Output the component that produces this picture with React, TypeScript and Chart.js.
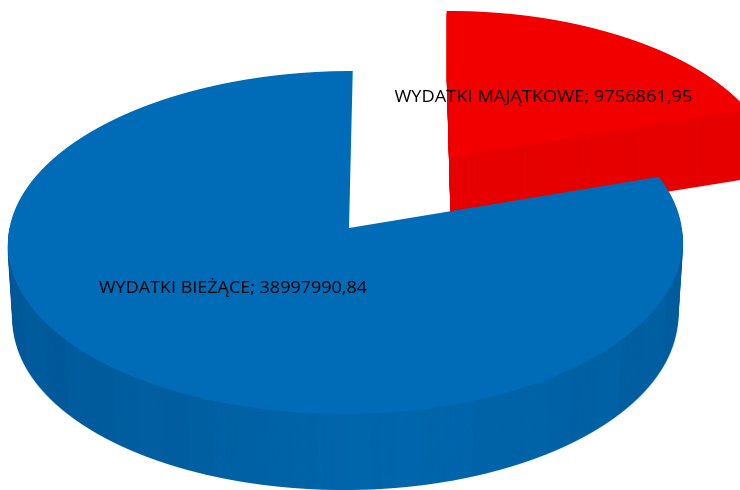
import React, { useEffect, useRef } from "react";
import { Chart, registerables } from "chart.js";

Chart.register(...registerables);

const categories = ["WYDATKI MAJĄTKOWE", "WYDATKI BIEŻĄCE"];
const values = [9756861.95, 38997990.84];
const faceColors = ["#f20000", "#006bb7"];
const sliceExplode = [0.53, 0];
const sliceDepth = [69, 76];
const sliceShrink = [0, 5];
const wallTop = [0, 228];
const redWallBands = ["#e60000"];
const blueWallBands = [
  "#005a9a", "#005c9d", "#005a9a", "#005d9e", "#005c9d", "#005e9f", "#005fa1", "#005ea0",
  "#0060a2", "#0061a4", "#0062a5", "#0063a7", "#0064a9", "#0065aa", "#0066ab", "#0065ab",
  "#0066ac", "#0065aa", "#0065ab", "#0064a9", "#0063a8", "#0064a8", "#0062a6", "#0061a4",
  "#0062a5", "#005fa1", "#0060a2", "#005e9f",
];
const wallBands = [redWallBands, blueWallBands];
const labelAnchors = [
  { x: 394.5, y: 101.5 },
  { x: 99, y: 293 },
];
const labelWidths = [298, 268];

const W = 740;
const H = 490;
// projection of the pie's plane onto the picture
const PROJ = { x0: 349, y0: 228, sxL: 339.5, sxR: 332.8, sy: 170.3, b: -0.0846, k: -4.06, midX: 346 };

function drawProjected(ctx: CanvasRenderingContext2D, arc: any, color: any, tu: number, tv: number) {
  const { x: cx, y: cy, outerRadius: R } = arc;
  const { x0, y0, sxL, sxR, sy, b, k } = PROJ;
  const saved = arc.options;
  arc.options = Object.assign({}, saved, { backgroundColor: color, borderWidth: 0 });
  for (let y = 0; y < H; y++) {
    const w = y + 0.5 - y0;
    const n = w / (sy - b * w);
    const d = 1 + b * n;
    const e = sy / (R * d * d);
    const c = k / (R * d * d);
    const vy = n * R + cy;
    const ty = y + 0.5 - e * vy;
    const split = Math.round(x0 + (k * n) / d);
    [
      { from: 0, to: split, sx: sxL },
      { from: split, to: W, sx: sxR },
    ].forEach(({ from, to, sx }) => {
      const a = sx / (R * d);
      const tx = x0 + (k * n) / d - a * cx - c * vy;
      ctx.save();
      ctx.beginPath();
      ctx.rect(from, y, to - from, 1);
      ctx.clip();
      ctx.setTransform(a, 0, c, e, tx, ty);
      ctx.translate(tu, tv);
      arc.draw(ctx);
      ctx.restore();
    });
  }
  arc.options = saved;
}

const pie3d = {
  id: "pie3d",
  beforeDatasetDraw(chart: any, args: any) {
    const ctx: CanvasRenderingContext2D = chart.ctx;
    const off = document.createElement("canvas");
    off.width = W;
    off.height = H;
    const octx = off.getContext("2d") as CanvasRenderingContext2D;
    args.meta.data.forEach((arc: any, i: number) => {
      const R = arc.outerRadius;
      const mid = (arc.startAngle + arc.endAngle) / 2;
      const tu = Math.cos(mid) * sliceExplode[i] * R;
      const tv = Math.sin(mid) * sliceExplode[i] * R;
      const grad = octx.createLinearGradient(arc.x - R, 0, arc.x + R, 0);
      const bands = wallBands[i];
      bands.forEach((col, j) => {
        grad.addColorStop(j / bands.length, col);
        grad.addColorStop((j + 1) / bands.length, col);
      });
      octx.clearRect(0, 0, W, H);
      drawProjected(octx, arc, grad, tu, tv);
      ctx.save();
      ctx.beginPath();
      ctx.rect(0, wallTop[i], W, H - wallTop[i]);
      ctx.clip();
      for (let dy = sliceDepth[i]; dy >= 1; dy--) {
        const s = 1 - (sliceShrink[i] / 338) * (dy / sliceDepth[i]);
        ctx.drawImage(off, PROJ.midX * (1 - s), dy, W * s, H);
      }
      ctx.restore();
      drawProjected(ctx, arc, faceColors[i], tu, tv);
    });
    return false;
  },
  afterDatasetsDraw(chart: any) {
    const ctx: CanvasRenderingContext2D = chart.ctx;
    categories.forEach((cat, i) => {
      const text = `${cat}; ${values[i].toFixed(2).replace(".", ",")}`;
      ctx.save();
      ctx.font = '17px "Open Sans"';
      ctx.fillStyle = "#000000";
      ctx.textBaseline = "alphabetic";
      ctx.textAlign = "left";
      ctx.translate(labelAnchors[i].x, labelAnchors[i].y);
      ctx.scale(labelWidths[i] / ctx.measureText(text).width, 1);
      ctx.fillText(text, 0, 0);
      ctx.restore();
    });
  },
};

export default function App() {
  const ref = useRef<HTMLCanvasElement>(null);
  useEffect(() => {
    const chart = new Chart(ref.current as HTMLCanvasElement, {
      type: "pie",
      data: {
        labels: categories,
        datasets: [{ data: values, backgroundColor: faceColors, borderWidth: 0 }],
      },
      options: {
        responsive: false,
        animation: false,
        layout: { padding: 0 },
        plugins: { legend: { display: false }, tooltip: { enabled: false } },
      },
      plugins: [pie3d],
    } as any);
    return () => chart.destroy();
  }, []);
  return (
    <canvas
      ref={ref}
      width={W}
      height={H}
      style={{ position: "fixed", left: 0, top: 0, display: "block", background: "#ffffff", filter: "blur(0.45px)" }}
    />
  );
}
